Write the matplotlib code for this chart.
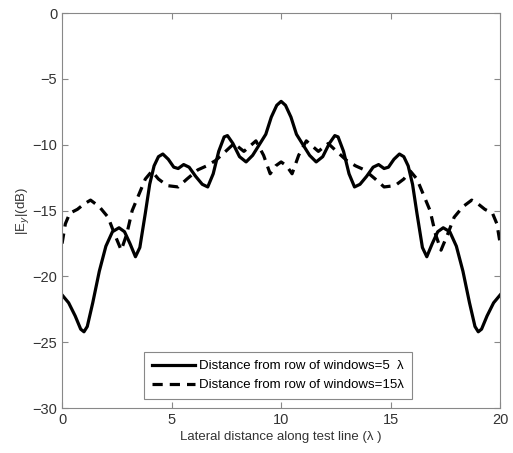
import matplotlib.pyplot as plt

plt.rcParams['font.family'] = ['Liberation Sans', 'DejaVu Sans']

# Solid curve: distance from row of windows = 5 lambda
x_5 = [0.0, 0.3, 0.6, 0.85, 1.0, 1.15, 1.4, 1.7, 2.0, 2.3, 2.6, 2.85, 3.1, 3.35, 3.55,
       3.8, 4.0, 4.2, 4.4, 4.6, 4.85, 5.1, 5.3, 5.55, 5.8, 6.1, 6.4, 6.65, 6.9, 7.15,
       7.4, 7.55, 7.8, 8.1, 8.4, 8.7, 9.0, 9.3, 9.55, 9.8, 10.0,
       10.2, 10.45, 10.7, 11.0, 11.3, 11.6, 11.9, 12.2, 12.45, 12.6, 12.85, 13.1, 13.35,
       13.6, 13.9, 14.2, 14.45, 14.7, 14.9, 15.15, 15.4, 15.6, 15.8, 16.0, 16.2, 16.45,
       16.65, 16.9, 17.15, 17.4, 17.7, 18.0, 18.3, 18.6, 18.85, 19.0, 19.15, 19.4, 19.7, 20.0]
y_5 = [-21.4, -22.0, -23.0, -24.0, -24.2, -23.8, -22.0, -19.6, -17.7, -16.6, -16.3, -16.6, -17.5, -18.5, -17.8,
       -15.2, -13.0, -11.6, -10.9, -10.7, -11.1, -11.7, -11.8, -11.5, -11.7, -12.4, -13.0, -13.2, -12.2, -10.5,
       -9.4, -9.3, -9.9, -10.9, -11.3, -10.8, -10.0, -9.2, -7.9, -7.0, -6.7,
       -7.0, -7.9, -9.2, -10.0, -10.8, -11.3, -10.9, -9.9, -9.3, -9.4, -10.5, -12.2, -13.2,
       -13.0, -12.4, -11.7, -11.5, -11.8, -11.7, -11.1, -10.7, -10.9, -11.6, -13.0, -15.2, -17.8,
       -18.5, -17.5, -16.6, -16.3, -16.6, -17.7, -19.6, -22.0, -23.8, -24.2, -24.0, -23.0, -22.0, -21.4]

# Dashed curve: distance from row of windows = 15 lambda
x_15 = [0.0, 0.15, 0.35, 0.7, 1.0, 1.3, 1.7, 2.1, 2.4, 2.7, 2.95, 3.2, 3.5, 3.8, 4.1,
        4.4, 4.8, 5.3, 5.7, 6.2, 6.6, 7.0, 7.4, 7.85, 8.3, 8.85, 9.2, 9.5, 9.75, 10.0,
        10.25, 10.5, 10.8, 11.15, 11.7, 12.15, 12.6, 13.0, 13.4, 13.8, 14.3, 14.7, 15.2,
        15.6, 15.9, 16.2, 16.5, 16.8, 17.05, 17.3, 17.6, 17.9, 18.3, 18.7, 19.0, 19.3,
        19.65, 19.85, 20.0]
y_15 = [-17.5, -16.0, -15.2, -14.9, -14.5, -14.2, -14.7, -15.5, -16.8, -18.0, -16.8, -15.0, -13.8, -12.6, -12.0,
        -12.6, -13.1, -13.2, -12.6, -11.9, -11.6, -11.2, -10.6, -9.9, -10.5, -9.7, -10.8, -12.2, -11.6, -11.3,
        -11.6, -12.2, -10.8, -9.7, -10.5, -9.9, -10.6, -11.2, -11.6, -11.9, -12.6, -13.2, -13.1,
        -12.6, -12.0, -12.6, -13.8, -15.0, -16.8, -18.0, -16.8, -15.5, -14.7, -14.2, -14.5, -14.9,
        -15.2, -16.0, -17.5]

fig = plt.figure(figsize=(5.13, 4.53), dpi=100)
ax = fig.add_axes([0.121, 0.099, 0.854, 0.872])

ax.plot(x_5, y_5, color='black', linewidth=2.3,
        label='Distance from row of windows=5  \u03bb')
ax.plot(x_15, y_15, color='black', linewidth=2.3, linestyle=(0, (3.2, 2.2)),
        label='Distance from row of windows=15\u03bb')

ax.set_xlim(0, 20)
ax.set_ylim(-30, 0)
ax.set_xticks([0, 5, 10, 15, 20])
ax.set_yticks([-30, -25, -20, -15, -10, -5, 0])
ax.tick_params(direction='in', top=True, right=True, labelsize=10.5,
               color='#888888', labelcolor='#333333', length=4)
for sp in ax.spines.values():
    sp.set_color('#888888')

ax.set_xlabel('Lateral distance along test line (\u03bb )', fontsize=9.5,
              labelpad=3, color='#333333')
ax.set_ylabel('|E$_y$|(dB)', fontsize=9.5, labelpad=1, color='#333333')

leg = ax.legend(loc='lower left', bbox_to_anchor=(0.187, 0.023), borderaxespad=0,
                fontsize=9.5, fancybox=False, framealpha=1, edgecolor='#888888',
                handlelength=3.3, handletextpad=0.3, borderpad=0.6, labelspacing=0.5)
leg.get_frame().set_linewidth(0.8)

plt.savefig('out.png', dpi=100)
